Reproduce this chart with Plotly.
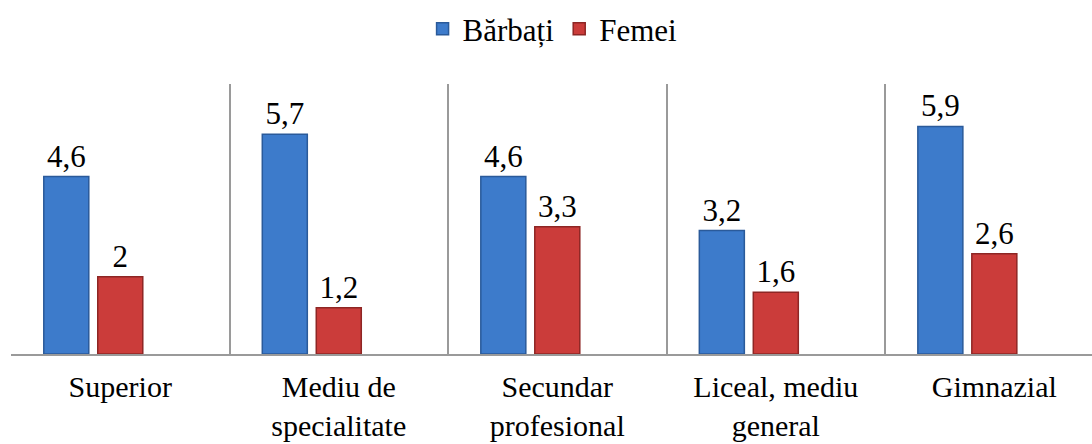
import plotly.graph_objects as go

categories = ["Superior", "Mediu de<br>specialitate", "Secundar<br>profesional",
              "Liceal, mediu<br>general", "Gimnazial"]
barbati = [4.6, 5.7, 4.6, 3.2, 5.9]
femei = [2.0, 1.2, 3.3, 1.6, 2.6]


def fmt(v):
    s = ("%.1f" % v).rstrip("0").rstrip(".")
    return s.replace(".", ",")


FONT = "Liberation Serif, Times New Roman, serif"

fig = go.Figure()
fig.add_trace(go.Bar(
    x=categories, y=barbati, name="Bărbați",
    text=[fmt(v) for v in barbati], textposition="outside",
    textfont=dict(family=FONT, size=31, color="black"),
    marker=dict(color="#3D7BCB", line=dict(color="#2A5A9A", width=1.5)),
    width=0.206, offset=-0.35, cliponaxis=False, hoverinfo="skip",
))
fig.add_trace(go.Bar(
    x=categories, y=femei, name="Femei",
    text=[fmt(v) for v in femei], textposition="outside",
    textfont=dict(family=FONT, size=31, color="black"),
    marker=dict(color="#CB3C3A", line=dict(color="#8E2624", width=1.5)),
    width=0.206, offset=-0.103, cliponaxis=False, hoverinfo="skip",
))

fig.update_layout(
    width=1092, height=444,
    margin=dict(l=11, r=0, t=84, b=90, autoexpand=False),
    paper_bgcolor="white", plot_bgcolor="white",
    barmode="overlay",
    font=dict(family=FONT, size=31, color="black"),
    showlegend=True,
    legend=dict(orientation="h", x=0.501, xanchor="center", y=0.995, yanchor="top",
                yref="container", font=dict(family=FONT, size=31, color="black"),
                traceorder="normal", itemwidth=30, bgcolor="rgba(0,0,0,0)"),
)
fig.update_xaxes(
    type="category", range=[-0.5, 4.447], tickson="boundaries", automargin=False,
    showgrid=True, gridcolor="#9a9a9a", gridwidth=1.5,
    showline=True, linecolor="#9a9a9a", linewidth=2,
    ticks="", tickfont=dict(family=FONT, size=30, color="black"),
    ticklabelstandoff=5,
)
fig.update_yaxes(
    range=[0, 7], showgrid=False, showticklabels=False, zeroline=False,
    showline=False, ticks="", automargin=False,
)

fig.write_html("out.html", config={"displayModeBar": False},
               post_script="document.body.style.margin='0';document.body.style.overflow='hidden';")
